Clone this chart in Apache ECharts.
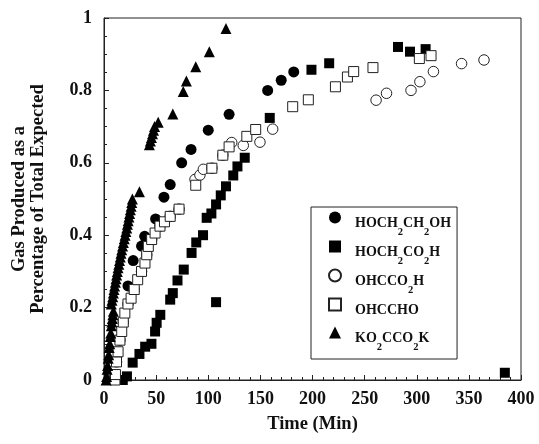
<!DOCTYPE html>
<html><head><meta charset="utf-8">
<script src="https://cdn.jsdelivr.net/npm/echarts@6/dist/echarts.min.js"></script>
<style>html,body{margin:0;padding:0;background:#fff}#c{width:539px;height:444px}</style>
</head><body><div id="c"></div>
<script>
// ---- data (x: minutes, y: fraction of total expected gas) ----
const hoch2ch2oh = [[23,0.26],[28,0.33],[36,0.37],[39,0.397],[49.5,0.445],[57.5,0.505],[63.5,0.54],[74.5,0.60],[83.5,0.637],[100,0.69],[120,0.734],[157,0.80],[170,0.828],[182,0.851]];
const hoch2co2h = [[10,0],[14,0],[18,0],[22,0.01],[27.5,0.048],[34,0.072],[39.5,0.092],[45.5,0.10],[49,0.134],[50.5,0.158],[54,0.18],[63.5,0.222],[66,0.24],[70.5,0.275],[76.5,0.305],[84,0.351],[88.5,0.38],[95,0.40],[98.5,0.448],[103,0.46],[107.5,0.485],[112,0.51],[117,0.535],[124,0.565],[128,0.59],[135,0.614],[159,0.724],[107.5,0.215],[199,0.857],[216,0.875],[282,0.92],[293.5,0.907],[308.5,0.914],[384.5,0.02]];
const ohcco2h = [[12,0.05],[15.3,0.11],[18.5,0.16],[23,0.21],[29,0.25],[36,0.30],[41,0.346],[45.7,0.388],[53.7,0.425],[63.5,0.452],[72,0.472],[87.3,0.554],[92,0.566],[95.3,0.582],[103.5,0.585],[114,0.621],[122.5,0.656],[133.6,0.648],[149.6,0.657],[161.8,0.693],[261,0.773],[271,0.792],[294.5,0.80],[303,0.824],[316,0.852],[343,0.874],[364.5,0.884]];
const ohccho = [[10.5,0],[11,0.015],[12,0.05],[13.5,0.078],[15.3,0.11],[17,0.134],[18.5,0.16],[20,0.185],[23,0.21],[26,0.226],[29,0.25],[32.3,0.277],[36,0.30],[39.3,0.323],[41,0.346],[42.5,0.369],[45.7,0.388],[49,0.406],[53.7,0.425],[58,0.437],[63.5,0.452],[72,0.472],[88,0.538],[103.5,0.585],[114,0.621],[120,0.644],[137,0.673],[145.5,0.692],[181,0.755],[196,0.774],[222,0.81],[233.5,0.837],[239.5,0.852],[258,0.863],[302.5,0.888],[313.7,0.896]];
const ko2cco2k = [[2,0],[2.5,0.01],[3,0.03],[3.5,0.04],[4,0.06],[4.5,0.07],[5,0.09],[5.5,0.10],[6,0.12],[6.5,0.13],[7,0.15],[7.5,0.16],[8,0.17],[8.5,0.18],[9,0.19],
  [7,0.21],[7.7,0.22],[8.4,0.23],[9,0.24],[9.6,0.25],[10.2,0.26],[10.9,0.27],[11.5,0.28],[12.1,0.29],[12.8,0.30],[13.5,0.31],[14.2,0.32],[14.9,0.33],[15.6,0.34],[16.3,0.35],[17,0.36],[17.8,0.37],[18.6,0.38],[19.4,0.39],[20.2,0.40],[21,0.41],[21.8,0.42],[22.5,0.43],[23.2,0.44],[23.9,0.45],[24.6,0.46],[25.3,0.47],[26,0.48],[26.6,0.49],[27.2,0.50],[34,0.52],
  [43.5,0.65],[44.5,0.66],[45.5,0.67],[46.5,0.68],[47.5,0.69],[48.5,0.70],[52,0.712],[66,0.735],[76,0.797],[79,0.826],[88,0.865],[101,0.907],[117,0.971]];

const seriesNames = ['HOCH2CH2OH','HOCH2CO2H','OHCCO2H','OHCCHO','KO2CCO2K'];
const legendRich = ['{n|HOCH}{s|2}{n|CH}{s|2}{n|OH}','{n|HOCH}{s|2}{n|CO}{s|2}{n|H}','{n|OHCCO}{s|2}{n|H}','{n|OHCCHO}','{n|KO}{s|2}{n|CCO}{s|2}{n|K}'];
const xTickLabels = ['0','50','100','150','200','250','300','350','400'];
const yTickLabels = ['0','0.2','0.4','0.6','0.8','1'];

const serif = 'Liberation Serif';
const chart = echarts.init(document.getElementById('c'), null, {renderer:'canvas'});
const filled = {color:'#000', borderWidth:0, opacity:1};
const open = {color:'#fff', borderColor:'#222', borderWidth:1, opacity:1};
chart.setOption({
  animation:false,
  backgroundColor:'#fff',
  grid:{left:104, right:18, top:18, bottom:64, outerBoundsMode:'none', containLabel:false, show:true, borderColor:'#222', borderWidth:1, backgroundColor:'transparent'},
  xAxis:{type:'value', min:0, max:400, interval:50,
    name:'Time (Min)', nameLocation:'middle', nameGap:35,
    nameTextStyle:{fontFamily:serif, fontWeight:'bold', fontSize:18.5, color:'#111'},
    axisLine:{lineStyle:{color:'#222', width:1}},
    axisTick:{inside:true, length:5, lineStyle:{color:'#222'}},
    minorTick:{show:true, splitNumber:5, length:3, lineStyle:{color:'#222'}},
    splitLine:{show:false},
    axisLabel:{margin:10, fontFamily:serif, fontWeight:'bold', fontSize:18, color:'#111',
      formatter:(v)=>xTickLabels[Math.round(v/50)]}},
  yAxis:{type:'value', min:0, max:1, interval:0.2,
    name:'Gas Produced as a\nPercentage of Total Expected', nameLocation:'middle', nameRotate:90, nameGap:56,
    nameTextStyle:{fontFamily:serif, fontWeight:'bold', fontSize:18.5, lineHeight:19.5, color:'#111'},
    axisLine:{lineStyle:{color:'#222', width:1}},
    axisTick:{inside:true, length:5, lineStyle:{color:'#222'}},
    minorTick:{show:true, splitNumber:4, length:3, lineStyle:{color:'#222'}},
    splitLine:{show:false},
    axisLabel:{margin:12, fontFamily:serif, fontWeight:'bold', fontSize:18, color:'#111',
      formatter:(v)=>yTickLabels[Math.round(v/0.2)]}},
  legend:{orient:'vertical', left:311, top:207, itemWidth:12, itemHeight:12, itemGap:1,
    padding:[3,6,6,17], borderColor:'#222', borderWidth:1, borderRadius:0, backgroundColor:'#fff',
    data:seriesNames,
    formatter:(name)=>legendRich[seriesNames.indexOf(name)],
    textStyle:{padding:[0,0,0,9], rich:{
      n:{fontFamily:serif, fontWeight:'bold', fontSize:14, color:'#111', lineHeight:15, padding:[6.5,0,6.5,0], verticalAlign:'top'},
      s:{fontFamily:serif, fontWeight:'bold', fontSize:10.5, color:'#111', lineHeight:10, padding:[17,0,0,0], verticalAlign:'top'}
    }}},
  series:[
    {name:seriesNames[0], type:'scatter', symbol:'circle', symbolSize:11, itemStyle:filled, data:hoch2ch2oh},
    {name:seriesNames[1], type:'scatter', symbol:'rect', symbolSize:10, itemStyle:filled, data:hoch2co2h},
    {name:seriesNames[2], type:'scatter', symbol:'circle', symbolSize:10.5, itemStyle:open, data:ohcco2h},
    {name:seriesNames[3], type:'scatter', symbol:'rect', symbolSize:10, itemStyle:open, data:ohccho},
    {name:seriesNames[4], type:'scatter', symbol:'triangle', symbolSize:11, itemStyle:filled, data:ko2cco2k}
  ]
});
</script></body></html>
